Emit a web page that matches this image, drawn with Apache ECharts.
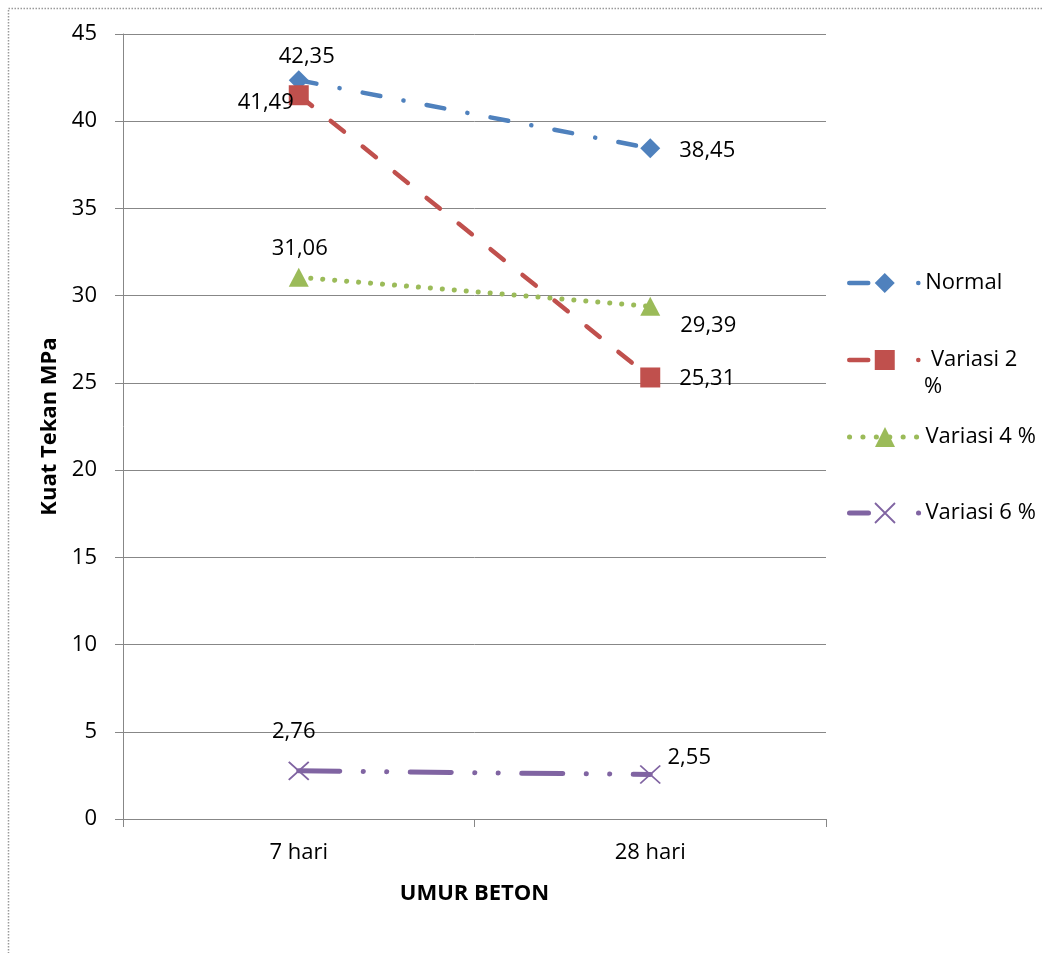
<!DOCTYPE html>
<html>
<head>
<meta charset="utf-8">
<script src="https://cdn.jsdelivr.net/npm/echarts@6/dist/echarts.min.js"></script>
<style>
html,body{margin:0;padding:0;background:#fff;}
#chart{width:1043px;height:953px;}
</style>
</head>
<body>
<div id="chart"></div>
<script>
// ---- data ----
const categories = ['7 hari', '28 hari'];
const seriesNames = ['Normal', ' Variasi 2 %', 'Variasi 4 %', 'Variasi 6 %'];
const normal = [42.35, 38.45];
const variasi2 = [41.49, 25.31];
const variasi4 = [31.06, 29.39];
const variasi6 = [2.76, 2.55];
const yTicks = [0, 5, 10, 15, 20, 25, 30, 35, 40, 45];
const xTitle = 'UMUR BETON';
const yTitle = 'Kuat Tekan MPa';

// ---- styling ----
const FONT = '"Open Sans", "Noto Sans", sans-serif';
const FS = 22;
const colors = ['#4F81BD', '#C0504D', '#9BBB59', '#8064A2'];
const dashes = [
  [18, 23.5, 0.1, 23.5],
  [17, 24],
  [0.1, 11.9],
  [41, 23.5, 0.1, 23.3, 0.1, 23.5]
];
const legendDashes = [
  [19, 50, 0.1, 1000],
  [19, 50, 0.1, 1000],
  [0.1, 13.3],
  [19, 50, 0.1, 1000]
];
const widths = [4.5, 4.5, 5, 5];
const symbols = ['diamond', 'rect', 'triangle', 'path://M0,0L10,10M10,0L0,10'];
const symbolSizes = [[20, 20], [20, 20], [20, 19], [20, 18]];
const labelOffsets = [
  [[8, -23], [57, 2]],
  [[-33, 8], [57, 1]],
  [[1, -28], [58, 19]],
  [[-5, -39], [39, -17]]
];
const legendCenters = [283, 360, 437, 513];
const seriesData = [normal, variasi2, variasi4, variasi6];

const fmt = v => v.toFixed(2).replace('.', ',');

const itemStyleFor = i => i === 3
  ? { color: colors[i], borderColor: colors[i], borderWidth: 1.8 }
  : { color: colors[i], borderWidth: 0 };

const series = seriesData.map((vals, i) => ({
  name: seriesNames[i],
  type: 'line',
  data: vals.map((v, j) => ({
    value: v,
    label: { offset: labelOffsets[i][j] }
  })),
  symbol: symbols[i],
  symbolSize: symbolSizes[i],
  showAllSymbol: true,
  lineStyle: { color: colors[i], width: widths[i], type: dashes[i], cap: 'round' },
  itemStyle: itemStyleFor(i),
  label: {
    show: true,
    position: 'inside',
    formatter: p => fmt(p.value),
    color: '#000',
    fontFamily: FONT,
    fontSize: FS
  },
  emphasis: { disabled: true },
  animation: false,
  z: 2 + i
}));

const legends = seriesNames.map((n, i) => ({
  data: [n],
  orient: 'vertical',
  left: 847,
  top: legendCenters[i] - 16,
  itemWidth: 71,
  itemHeight: 25,
  itemGap: 0,
  padding: 0,
  selectedMode: false,
  formatter: name => name === ' Variasi 2 %' ? ' Variasi 2' : name,
  lineStyle: { color: colors[i], width: widths[i], type: legendDashes[i], cap: 'round' },
  itemStyle: itemStyleFor(i),
  textStyle: { fontFamily: FONT, fontSize: FS, color: '#000', lineHeight: 32 }
}));

const chart = echarts.init(document.getElementById('chart'), null, { renderer: 'canvas' });
chart.setOption({
  animation: false,
  backgroundColor: '#fff',
  grid: { left: 123, right: 217, top: 34, bottom: 134, containLabel: false },
  legend: legends,
  xAxis: {
    type: 'category',
    data: categories,
    boundaryGap: true,
    name: xTitle,
    nameLocation: 'middle',
    nameGap: 64,
    nameTextStyle: { fontFamily: FONT, fontSize: FS, fontWeight: 'bold', color: '#000' },
    axisLine: { show: true, lineStyle: { color: '#878787', width: 1 } },
    axisTick: { show: true, length: 8, inside: false, lineStyle: { color: '#878787' } },
    axisLabel: { margin: 23, fontFamily: FONT, fontSize: FS, color: '#000' },
    splitLine: { show: false }
  },
  yAxis: {
    type: 'value',
    min: yTicks[0],
    max: yTicks[yTicks.length - 1],
    interval: yTicks[1] - yTicks[0],
    name: yTitle,
    nameLocation: 'middle',
    nameGap: 62,
    nameTextStyle: { fontFamily: FONT, fontSize: FS, fontWeight: 'bold', color: '#000' },
    axisLine: { show: true, lineStyle: { color: '#878787', width: 1 } },
    axisTick: { show: true, length: 8, inside: false, lineStyle: { color: '#878787' } },
    axisLabel: { margin: 26, fontFamily: FONT, fontSize: FS, color: '#000' },
    splitLine: { show: true, lineStyle: { color: '#878787', width: 1 } }
  },
  graphic: [{
    type: 'rect',
    shape: { x: 8.5, y: 8.5, width: 1100, height: 1000 },
    style: { fill: 'none', stroke: '#9a9a9a', lineWidth: 1.5, lineDash: [1.5, 1.5] },
    silent: true,
    z: -10
  }, {
    type: 'text',
    left: 924,
    top: legendCenters[1] + 32 - 16,
    style: { text: '%', fontFamily: FONT, fontSize: FS, fill: '#000' },
    silent: true
  }],
  series: series
});
</script>
</body>
</html>
